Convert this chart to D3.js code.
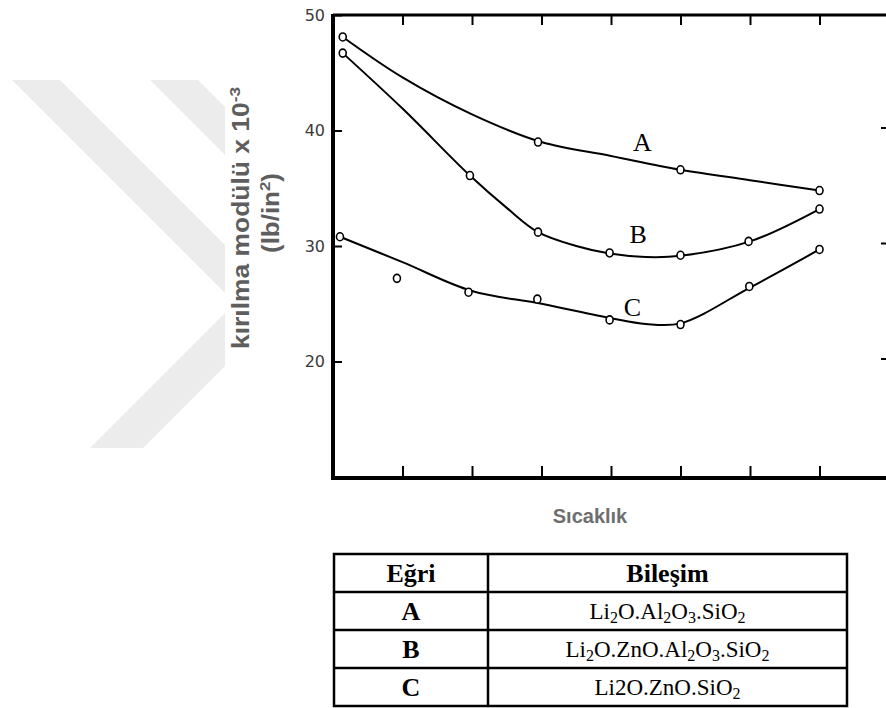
<!DOCTYPE html>
<html>
<head>
<meta charset="utf-8">
<script src="https://cdn.jsdelivr.net/npm/d3@7"></script>
<style>
  body { margin: 0; background: #fff; }
  svg { display: block; }
</style>
</head>
<body>
<div id="chart"></div>
<script>
// measured points (x = position on the unlabelled temperature axis)
const pointsA_x = [0.14, 2.95, 5.0, 7.0];
const pointsA_y = [48.1, 39.0, 36.6, 34.8];
const pointsB_x = [0.14, 1.97, 2.95, 3.98, 5.0, 5.98, 7.0];
const pointsB_y = [46.7, 36.1, 31.2, 29.4, 29.2, 30.4, 33.2];
const pointsC_x = [0.1, 0.92, 1.95, 2.94, 3.98, 5.0, 5.99, 7.0];
const pointsC_y = [30.8, 27.2, 26.0, 25.4, 23.6, 23.2, 26.5, 29.7];

// hand drawn fit lines
const fitA_x = [0.14, 1, 2, 3, 4, 5, 6, 7];
const fitA_y = [48.1, 44.6, 41.4, 39.0, 37.8, 36.6, 35.7, 34.8];
const fitB_x = [0.14, 1, 1.97, 2.5, 2.95, 3.5, 3.98, 4.5, 5, 6, 7];
const fitB_y = [46.7, 41.9, 36.1, 33.3, 31.2, 30.0, 29.35, 29.05, 29.15, 30.4, 33.2];
const fitC_x = [0.1, 1, 2, 3, 4, 4.5, 5, 6, 7];
const fitC_y = [30.8, 28.6, 26.1, 25.0, 23.75, 23.25, 23.3, 26.4, 29.7];

const curveNames = ["A", "B", "C"];
const labelPos_x = [4.45, 4.39, 4.31];
const labelPos_y = [38.2, 30.3, 23.9];

const yTicks = [20, 30, 40, 50];
const xTicks = [1, 2, 3, 4, 5, 6, 7];

const tableHead = ["Eğri", "Bileşim"];
const compositions = ["Li_2O.Al_2O_3.SiO_2", "Li_2O.ZnO.Al_2O_3.SiO_2", "Li2O.ZnO.SiO_2"];

const width = 886;
const height = 708;

const svg = d3.select("#chart")
    .append("svg")
    .attr("width", width)
    .attr("height", height);

// watermark chevrons (left side)
const defs = svg.append("defs");
defs.append("clipPath").attr("id", "wm")
    .append("rect").attr("x", 0).attr("y", 80).attr("width", 225).attr("height", 368);

const wm = svg.append("g").attr("clip-path", "url(#wm)").attr("fill", "#ececec");
[0, 138].forEach(dx => {
    wm.append("polygon")
        .attr("points", [
            [12 + dx, 80], [60 + dx, 80], [285.5 + dx, 305.5],
            [143 + dx, 448], [90 + dx, 448], [235 + dx, 303]
        ].map(p => p.join(",")).join(" "));
});

const x = d3.scaleLinear().domain([0, 8]).range([333, 889]);
const y = d3.scaleLinear().domain([10, 50]).range([477, 15]);

// frame
svg.append("line").attr("x1", x(0)).attr("x2", x(0)).attr("y1", y(50) - 1).attr("y2", y(10) + 3)
    .attr("stroke", "#000").attr("stroke-width", 4);
svg.append("line").attr("x1", x(0) - 2).attr("x2", x(8)).attr("y1", y(10) + 1).attr("y2", y(10) + 1)
    .attr("stroke", "#000").attr("stroke-width", 4);
svg.append("line").attr("x1", x(0)).attr("x2", x(8)).attr("y1", y(50)).attr("y2", y(50))
    .attr("stroke", "#000").attr("stroke-width", 3);

// left axis, inward ticks
const yAxis = svg.append("g")
    .attr("transform", "translate(" + (x(0) + 2) + ",0)")
    .call(d3.axisLeft(y).tickValues(yTicks).tickSizeInner(-7).tickSizeOuter(0).tickPadding(10));
yAxis.select(".domain").remove();
yAxis.selectAll(".tick line").attr("stroke-width", 2);
yAxis.selectAll(".tick text")
    .attr("font-family", "DejaVu Sans, sans-serif")
    .attr("font-size", 16)
    .attr("fill", "#3a3a3a");

// right axis ticks (frame edge is just off the picture)
const yAxisR = svg.append("g")
    .attr("transform", "translate(" + x(8) + ",-3)")
    .call(d3.axisRight(y).tickValues([20, 30, 40]).tickSizeInner(-8).tickSizeOuter(0).tickFormat(""));
yAxisR.select(".domain").remove();
yAxisR.selectAll(".tick line").attr("stroke-width", 2);

// top and bottom ticks
const xTop = svg.append("g")
    .attr("transform", "translate(0," + y(50) + ")")
    .call(d3.axisTop(x).tickValues(xTicks).tickSizeInner(-10).tickSizeOuter(0).tickFormat(""));
xTop.select(".domain").remove();
xTop.selectAll(".tick line").attr("stroke-width", 2);

const xBottom = svg.append("g")
    .attr("transform", "translate(0," + y(10) + ")")
    .call(d3.axisBottom(x).tickValues(xTicks).tickSizeInner(-11).tickSizeOuter(0).tickFormat(""));
xBottom.select(".domain").remove();
xBottom.selectAll(".tick line").attr("stroke-width", 2);

// curves
const line = d3.line()
    .x(d => x(d[0]))
    .y(d => y(d[1]))
    .curve(d3.curveCatmullRom.alpha(0.5));

const fits = [[fitA_x, fitA_y], [fitB_x, fitB_y], [fitC_x, fitC_y]];
fits.forEach(f => {
    svg.append("path")
        .datum(d3.zip(f[0], f[1]))
        .attr("fill", "none")
        .attr("stroke", "#000")
        .attr("stroke-width", 2)
        .attr("d", line);
});

const points = [[pointsA_x, pointsA_y], [pointsB_x, pointsB_y], [pointsC_x, pointsC_y]];
points.forEach(p => {
    svg.append("g")
        .selectAll("ellipse")
        .data(d3.zip(p[0], p[1]))
        .join("ellipse")
        .attr("cx", d => x(d[0]))
        .attr("cy", d => y(d[1]))
        .attr("rx", 3.5)
        .attr("ry", 4)
        .attr("fill", "#fff")
        .attr("stroke", "#000")
        .attr("stroke-width", 1.6);
});

svg.append("g")
    .selectAll("text")
    .data(curveNames)
    .join("text")
    .attr("x", (d, i) => x(labelPos_x[i]))
    .attr("y", (d, i) => y(labelPos_y[i]))
    .attr("text-anchor", "middle")
    .attr("font-family", "Liberation Serif, serif")
    .attr("font-size", 26)
    .text(d => d);

// axis titles
const yl = svg.append("text")
    .attr("transform", "translate(249,218) rotate(-90)")
    .attr("text-anchor", "middle")
    .attr("font-family", "Liberation Sans, Arial, sans-serif")
    .attr("font-weight", "bold")
    .attr("font-size", 23)
    .attr("fill", "#5e5e5e")
    .attr("textLength", 262)
    .attr("lengthAdjust", "spacingAndGlyphs");
yl.append("tspan").text("kırılma modülü x 10");
yl.append("tspan").attr("font-size", 15).attr("dy", -9).text("-3");

const yl2 = svg.append("text")
    .attr("transform", "translate(279,213) rotate(-90)")
    .attr("text-anchor", "middle")
    .attr("font-family", "Liberation Sans, Arial, sans-serif")
    .attr("font-weight", "bold")
    .attr("font-size", 23)
    .attr("fill", "#5e5e5e")
    .attr("textLength", 80)
    .attr("lengthAdjust", "spacingAndGlyphs");
yl2.append("tspan").text("(lb/in");
yl2.append("tspan").attr("font-size", 15).attr("dy", -9).text("2");
yl2.append("tspan").attr("dy", 9).text(")");

svg.append("text")
    .attr("x", 590)
    .attr("y", 523)
    .attr("text-anchor", "middle")
    .attr("font-family", "Liberation Sans, Arial, sans-serif")
    .attr("font-weight", "bold")
    .attr("font-size", 20)
    .attr("fill", "#6e6e6e")
    .text("Sıcaklık");

// table
const tLeft = 334, tMid = 488, tRight = 847, tTop = 554, rowH = 38;
const table = svg.append("g");
const nRows = compositions.length + 1;

table.append("rect")
    .attr("x", tLeft).attr("y", tTop)
    .attr("width", tRight - tLeft).attr("height", rowH * nRows)
    .attr("fill", "none").attr("stroke", "#000").attr("stroke-width", 2.5);
table.append("line")
    .attr("x1", tMid).attr("x2", tMid).attr("y1", tTop).attr("y2", tTop + rowH * nRows)
    .attr("stroke", "#000").attr("stroke-width", 2.5);
for (let i = 1; i < nRows; i++) {
    table.append("line")
        .attr("x1", tLeft).attr("x2", tRight)
        .attr("y1", tTop + rowH * i).attr("y2", tTop + rowH * i)
        .attr("stroke", "#000").attr("stroke-width", 2.5);
}

const c1 = (tLeft + tMid) / 2, c2 = (tMid + tRight) / 2;

table.selectAll("text.head")
    .data(tableHead)
    .join("text")
    .attr("class", "head")
    .attr("x", (d, i) => i == 0 ? c1 : c2)
    .attr("y", tTop + rowH / 2 + 9)
    .attr("text-anchor", "middle")
    .attr("font-family", "Liberation Serif, serif")
    .attr("font-weight", "bold").attr("font-size", 26)
    .text(d => d);

for (let i = 0; i < compositions.length; i++) {
    const yy = tTop + rowH * (i + 1) + rowH / 2 + 8;
    table.append("text")
        .attr("x", c1).attr("y", yy + 1)
        .attr("text-anchor", "middle")
        .attr("font-family", "Liberation Serif, serif")
        .attr("font-weight", "bold").attr("font-size", 26)
        .text(curveNames[i]);

    const t = table.append("text")
        .attr("x", c2).attr("y", yy)
        .attr("text-anchor", "middle")
        .attr("font-family", "Liberation Serif, serif")
        .attr("font-size", 23);
    // "_d" marks a subscript digit
    const parts = compositions[i].split(/(_\d)/).filter(s => s.length);
    let sub = false;
    parts.forEach(s => {
        if (s[0] == "_") {
            t.append("tspan").attr("font-size", 16).attr("dy", sub ? 0 : 4).text(s.slice(1));
            sub = true;
        } else {
            t.append("tspan").attr("dy", sub ? -4 : 0).text(s);
            sub = false;
        }
    });
}
</script>
</body>
</html>
